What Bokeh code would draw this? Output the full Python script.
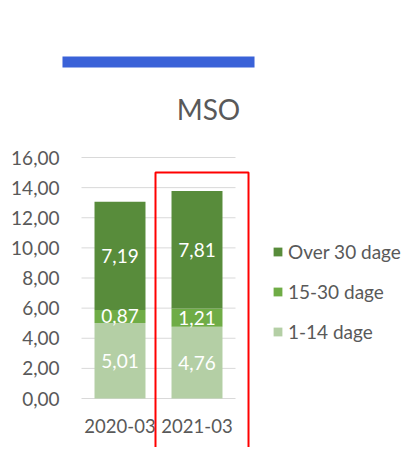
from bokeh.plotting import figure
from bokeh.models import (ColumnDataSource, Range1d, FixedTicker, BoxAnnotation,
                          Label, Legend, LegendItem, LinearAxis)
from bokeh.core.properties import value
from bokeh.embed import file_html
from bokeh.resources import INLINE

# ---- data ----
title_text = "MSO"
categories = ["2020-03", "2021-03"]
series_names = ["1-14 dage", "15-30 dage", "Over 30 dage"]
s_1_14 = [5.01, 4.76]
s_15_30 = [0.87, 1.21]
s_over30 = [7.19, 7.81]
y_ticks = [0, 2, 4, 6, 8, 10, 12, 14, 16]
y_tick_labels = ["0,00", "2,00", "4,00", "6,00", "8,00", "10,00", "12,00", "14,00", "16,00"]

colors = ["#B4CFA5", "#6FAC46", "#588C3B"]
FONT = "Lato"
GRAY = "#595959"

W, H = 403, 447
PX_X = 77.0        # pixels per category
PX_Y = 241 / 16.0  # pixels per y unit
X0, Y0 = 81, 398   # figure pixel of data origin

xpos = [i + 0.5 for i in range(len(categories))]
series = [s_1_14, s_15_30, s_over30]

p = figure(width=W, height=H, output_backend="svg", toolbar_location=None,
           x_range=Range1d(-X0 / PX_X, (W - X0) / PX_X),
           y_range=Range1d(-(H - Y0) / PX_Y, Y0 / PX_Y),
           min_border_left=0, min_border_right=0, min_border_top=0,
           min_border_bottom=0, x_axis_location=None, y_axis_location=None)
p.outline_line_color = None
p.background_fill_color = "white"
p.border_fill_color = "white"
p.xgrid.visible = False
p.ygrid.visible = False

# gridlines at the y ticks, across the category span
p.segment(x0=[0] * len(y_ticks), x1=[len(categories)] * len(y_ticks),
          y0=y_ticks, y1=y_ticks, line_color="#D9D9D9", line_width=1)

renderers = []
bottoms = [0.0] * len(categories)
lab_x, lab_y, lab_t = [], [], []
for name, vals, col in zip(series_names, series, colors):
    tops = [b + v for b, v in zip(bottoms, vals)]
    src = ColumnDataSource(dict(x=xpos, bottom=bottoms, top=tops))
    r = p.vbar(x="x", bottom="bottom", top="top", width=0.662, source=src,
               fill_color=col, line_color=None)
    renderers.append((name, r))
    for xi, b, v in zip(xpos, bottoms, vals):
        lab_x.append(xi)
        lab_y.append(b + v / 2)
        lab_t.append(f"{v:.2f}".replace(".", ","))
    bottoms = tops

lsrc = ColumnDataSource(dict(x=lab_x, y=lab_y, t=lab_t))
p.text(x="x", y="y", text="t", source=lsrc, text_color="white",
       text_font=value(FONT), text_font_size="19px", text_align="center",
       text_baseline="middle")

# axes drawn at fixed data locations inside the frame
yax = LinearAxis(fixed_location=0, ticker=FixedTicker(ticks=y_ticks),
                 major_label_overrides={t: l for t, l in zip(y_ticks, y_tick_labels)},
                 axis_line_color=None, major_tick_line_color=None,
                 minor_tick_line_color=None, major_tick_out=0, major_tick_in=0,
                 major_label_standoff=22, major_label_text_font=FONT,
                 major_label_text_font_size="19px", major_label_text_color=GRAY)
p.add_layout(yax, "left")
xax = LinearAxis(fixed_location=0, ticker=FixedTicker(ticks=xpos),
                 major_label_overrides={x: c for x, c in zip(xpos, categories)},
                 axis_line_color=None, major_tick_line_color=None,
                 minor_tick_line_color=None, major_tick_out=0, major_tick_in=0,
                 major_label_standoff=20, major_label_text_font=FONT,
                 major_label_text_font_size="18.5px", major_label_text_color=GRAY)
p.add_layout(xax, "below")

# title
p.add_layout(Label(x=1.649, y=19.19, text=title_text, text_font=FONT,
                   text_font_size="28px", text_color=GRAY, text_align="center",
                   text_baseline="middle"))

# decorations
p.add_layout(BoxAnnotation(left=-0.247, right=2.247, bottom=21.98, top=22.71,
                           fill_color="#3A62D8", fill_alpha=1, line_color=None,
                           level="overlay"))
p.add_layout(BoxAnnotation(left=0.961, right=2.169, bottom=-5.0, top=15.0,
                           fill_alpha=0, line_color="#FF0000", line_alpha=1,
                           line_width=2, level="overlay"))

# legend
items = [LegendItem(label=n, renderers=[r]) for n, r in reversed(renderers)]
legend = Legend(items=items, location=(272, H - 343), orientation="vertical",
                label_text_font=FONT, label_text_font_size="19px",
                label_text_color=GRAY, glyph_width=11, glyph_height=11,
                label_standoff=5, label_height=20, spacing=17, padding=0,
                margin=0, border_line_color=None, background_fill_alpha=0)
p.add_layout(legend, "center")

open("out.html", "w").write(file_html(p, INLINE))
